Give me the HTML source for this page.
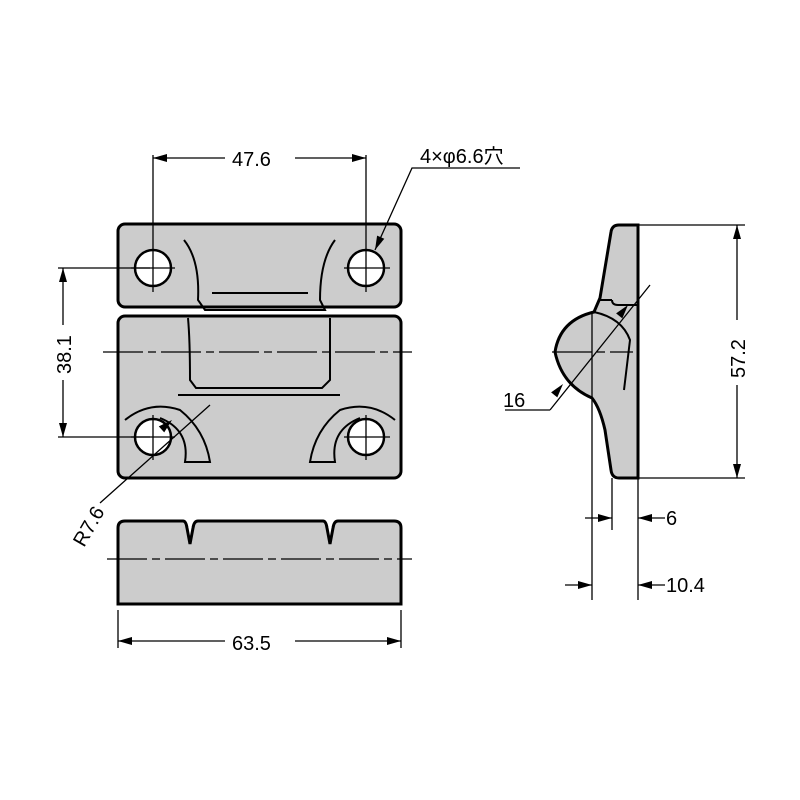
<!DOCTYPE html>
<html><head><style>body{margin:0;background:#fff}svg{display:block}</style></head><body>
<svg width="800" height="800" viewBox="0 0 800 800" xmlns="http://www.w3.org/2000/svg" font-family="Liberation Sans, Noto Sans CJK JP, sans-serif">
<g stroke="#000" stroke-width="3" fill="#ccc">
<rect x="118" y="224" width="283" height="83" rx="7"/>
<rect x="118" y="316" width="283" height="162" rx="7"/>
<path d="M118,604 V528 Q118,521 125,521 H183 Q186,521 187,528 L190,544 L193,528 Q194,521 198,521 H323 Q326,521 327,528 L330,544 L333,528 Q334,521 338,521 H394 Q401,521 401,528 V604 Z"/>
<path d="M619,225 H638 V478 H619 Q612,478 611,470 L605,430 Q600,408 592,398 Q562,385 555,352 Q560,320 594,312 L600,298 L611,232 Q612,225 619,225 Z"/>
</g>
<g stroke="#000" fill="none" stroke-width="2">
<path d="M184,240 Q200,260 198,300 L205,310 H325 L320,300 Q320,260 335,240"/>
<path d="M212,293 H308"/>
<path d="M188,318 Q190,340 190,380 L196,388 H322 L330,380 Q330,340 330,318"/>
<path d="M178,395 H340"/>
<path d="M125,420 Q150,400 180,410 Q205,430 210,462 H185 Q190,430 160,418"/>
<path d="M395,420 Q370,400 340,410 Q315,430 310,462 H335 Q330,430 360,418"/>
<path d="M612,300 Q612,305 618,305 H638 M598,300 H612 M594,312 Q622,318 630,340 L624,390"/>
</g>
<g stroke="#000" stroke-width="2.5" fill="#fff">
<circle cx="153" cy="268" r="18"/><circle cx="366" cy="268" r="18"/>
<circle cx="153" cy="437" r="18"/><circle cx="366" cy="437" r="18"/>
</g>
<g stroke="#000" stroke-width="1.3" fill="none">
<path d="M153,155 V292 M366,155 V292 M131,268 H175 M344,268 H390 M131,437 H175 M344,437 H390 M153,415 V460 M366,415 V460"/>
<path d="M58,268 H150 M58,437 H150"/>
<path d="M103,352 H412 M107,559 H412 M552,352 H633" stroke-dasharray="40,5,8,5"/>
<path d="M592,312 V600"/>
<path d="M118,610 V648 M401,610 V648"/>
<path d="M638,225 H745 M638,478 H745"/>
<path d="M612,478 V530 M638,478 V600"/>
<path d="M100,503 L210,405 M550,410 L650,285 M505,410 H550"/>
<path d="M375,250 L412,168 H520"/>
<path d="M153,158 H225 M295,158 H366 M63,268 V325 M63,380 V437 M118,641 H225 M295,641 H401 M737,225 V320 M737,385 V478"/>
<path d="M585,518 H612 M638,518 H665 M565,585 H592 M638,585 H665"/>
</g>
<g fill="#000">
<polygon points="153,158 167,154 167,162"/><polygon points="366,158 352,154 352,162"/>
<polygon points="63,268 59,282 67,282"/><polygon points="63,437 59,423 67,423"/>
<polygon points="118,641 132,637 132,645"/><polygon points="401,641 387,637 387,645"/>
<polygon points="737,225 733,239 741,239"/><polygon points="737,478 733,464 741,464"/>
<polygon points="612,518 598,514 598,522"/><polygon points="638,518 652,514 652,522"/>
<polygon points="592,585 578,581 578,589"/><polygon points="638,585 652,581 652,589"/>
<polygon points="375,250 384.3,238.8 377.1,235.6"/>
<polygon points="172,420 164.2,432.4 158.8,426.4"/>
<polygon points="563,384 557.3,397.4 551.1,392.4"/>
<polygon points="628,305 622.3,318.4 616.1,313.4"/>
</g>
<g font-size="20" fill="#000">
<text x="232" y="166">47.6</text>
<text x="232" y="650">63.5</text>
<text x="420" y="163">4×φ6.6穴</text>
<text x="503" y="407">16</text>
<text x="666" y="525">6</text>
<text x="666" y="592">10.4</text>
<text transform="translate(71,374) rotate(-90)">38.1</text>
<text transform="translate(745,378) rotate(-90)">57.2</text>
<text transform="translate(84,548) rotate(-60)">R7.6</text>
</g>
</svg>
</body></html>
